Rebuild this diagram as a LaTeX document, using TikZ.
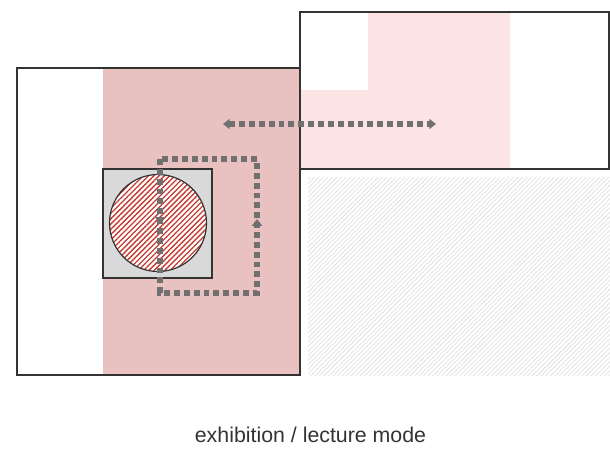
\documentclass[tikz,border=0pt]{standalone}
\usepackage{fontspec}
\setmainfont{Liberation Sans}
\usetikzlibrary{arrows.meta,patterns.meta,decorations.markings}

\definecolor{roomPink}{RGB}{232,193,192}
\definecolor{lightPink}{RGB}{253,228,228}
\definecolor{boxGray}{RGB}{217,217,217}
\definecolor{pathGray}{RGB}{112,112,112}
\definecolor{edgeDark}{RGB}{51,51,51}
\definecolor{tableRed}{RGB}{196,58,48}

\tikzset{every picture/.style={line width=0.75pt}}
\tikzset{
  wall/.style={draw=edgeDark, line width=1.1pt},
  walkway/.style={draw=pathGray, line width=4.4pt, dash pattern=on 4.4pt off 3pt},
}

\begin{document}
\begin{tikzpicture}[x=0.75pt,y=0.75pt,yscale=-1,xscale=1]
	\useasboundingbox (0,0) rectangle (610,451);

	%Shape: Rectangle [fill of left room]
	\fill [roomPink] (103,68) rectangle (300,375);
	%Shape: Rectangle [left room]
	\draw [wall] (17,68) rectangle (300,375);
	%Shape: Polygon [fill of right room]
	\fill [lightPink] (368,12) -- (510,12) -- (510,169) -- (300,169) -- (300,90) -- (368,90) -- cycle;
	%Shape: Rectangle [right room]
	\draw [wall] (300,12) rectangle (609,169);
	%Shape: Rectangle [hatched area]
	\fill [pattern={Lines[angle=45,distance=2.4pt,line width=0.7pt]}, pattern color=black!10] (308,177) rectangle (610,375);

	%Shape: Square [stand]
	\draw [wall, fill=boxGray] (103,169) rectangle (212,278);
	%Shape: Circle [table]
	\fill [white] (158,223) circle [radius=48.5];
	\draw [draw=edgeDark, line width=0.9pt, pattern={Lines[angle=45,distance=2.8pt,line width=1pt]}, pattern color=tableRed] (158,223) circle [radius=48.5];

	% Coordinates of the walkways
	\coordinate (lpTL) at (160,159);
	\coordinate (lpBL) at (160,293);
	\coordinate (lpBR) at (257,293);
	\coordinate (lpTR) at (257,159);
	\coordinate (wkL) at (223,124);
	\coordinate (wkR) at (436,124);

	%Straight Lines [loop walkway]
	\draw [walkway, postaction={decorate}, decoration={markings,
	    mark=at position 0.14 with {\arrow{Triangle[length=5pt,width=7.5pt]}},
	    mark=at position 0.66 with {\arrow{Triangle[length=5pt,width=7.5pt]}}}]
	  (lpTL) -- (lpBL) -- (lpBR) -- (lpTR) -- cycle;
	%Straight Lines [double walkway]
	\draw [walkway, {Triangle[length=5pt,width=7.5pt]}-{Triangle[length=5pt,width=7.5pt]}] (wkL) -- (wkR);

	% Text Node
	\node (caption) [font=\fontsize{16}{19}\selectfont, text=edgeDark] at (310.5,435) {exhibition / lecture mode};

\end{tikzpicture}
\end{document}
